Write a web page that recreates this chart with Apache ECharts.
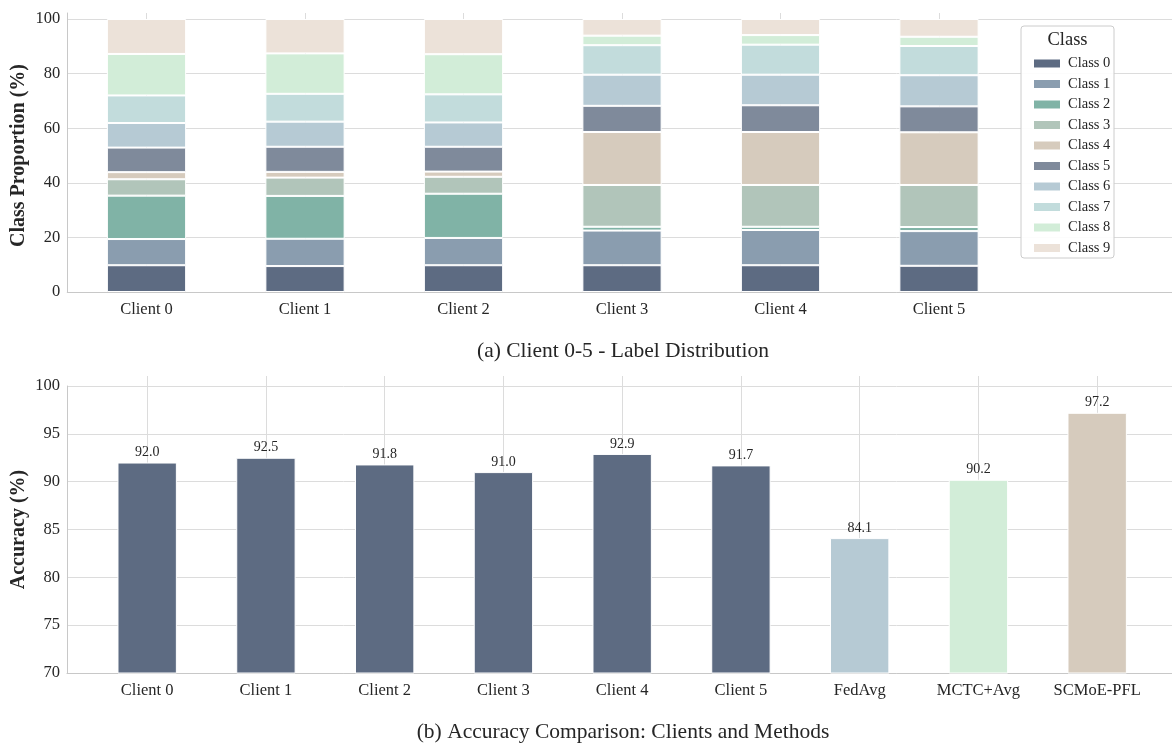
<!DOCTYPE html>
<html>
<head>
<meta charset="utf-8">
<script src="https://cdn.jsdelivr.net/npm/echarts@6/dist/echarts.min.js"></script>
<style>
  html, body { margin: 0; padding: 0; background: #ffffff; }
  #chart { width: 1172px; height: 746px; }
</style>
</head>
<body>
<div id="chart"></div>
<script>
// ---- data: label distribution per client (percent of samples per class) ----
const clients = ['Client 0', 'Client 1', 'Client 2', 'Client 3', 'Client 4', 'Client 5'];
const classNames = ['Class 0', 'Class 1', 'Class 2', 'Class 3', 'Class 4',
                    'Class 5', 'Class 6', 'Class 7', 'Class 8', 'Class 9'];
const class0 = [9.8, 9.5, 9.8, 9.8, 9.8, 9.6];
const class1 = [9.6, 10.0, 10.0, 12.7, 12.9, 12.7];
const class2 = [15.9, 15.7, 16.2, 1.4, 1.2, 1.5];
const class3 = [6.0, 6.7, 6.2, 15.3, 15.3, 15.4];
const class4 = [2.6, 2.1, 1.9, 19.4, 19.4, 19.3];
const class5 = [9.0, 9.2, 9.1, 9.6, 9.8, 9.5];
const class6 = [9.0, 9.2, 8.9, 11.4, 11.2, 11.4];
const class7 = [10.1, 10.2, 10.3, 10.8, 11.0, 10.7];
const class8 = [15.2, 14.8, 14.7, 3.5, 3.5, 3.4];
const class9 = [12.8, 12.6, 12.9, 6.1, 5.9, 6.5];
const classShares = [class0, class1, class2, class3, class4, class5, class6, class7, class8, class9];
const proportionTicks = [0, 100, 20];      // min, max, step

// ---- data: accuracy of each client and of the aggregation methods ----
const methods = ['Client 0', 'Client 1', 'Client 2', 'Client 3', 'Client 4', 'Client 5',
                 'FedAvg', 'MCTC+Avg', 'SCMoE-PFL'];
const accuracy = [92.0, 92.5, 91.8, 91.0, 92.9, 91.7, 84.1, 90.2, 97.2];
const accuracyTicks = [70, 100, 5];        // min, max, step

// ---- styling ----
const FONT = 'Liberation Serif';
const TEXT = '#262626';
const GRID_LINE = '#dcdcdc';
const SPINE = '#c8c8c8';
const classColors = ['#5d6b82', '#8a9daf', '#80b3a6', '#b1c5ba', '#d6cbbd',
                     '#7f8a9b', '#b6cad4', '#c2dcdc', '#d2edd8', '#ece2d9'];
const methodColors = ['#5d6b82', '#5d6b82', '#5d6b82', '#5d6b82', '#5d6b82', '#5d6b82',
                      '#b6cad4', '#d2edd8', '#d6cbbd'];

// panel geometry (pixels)
const topPanel = { left: 67.25, width: 1109.5, plotTop: 19, frameTop: 13, bottom: 292 };
const botPanel = { left: 67, width: 1110, plotTop: 386, frameTop: 376, bottom: 673,
                   barLeft: 87.8, barWidth: 1068.75 };

// helper: index list used by the centre-aligned vertical grid axes
const range = n => Array.from({ length: n }, (_, i) => String(i));

const topCats = clients.concat(['']);                 // one empty slot leaves room for the legend
const topGridSlots = range(topCats.length * 2 + 1);   // ticks at band edges and centres
const botGridSlots = range(methods.length * 2 + 1);

const chart = echarts.init(document.getElementById('chart'), null, { renderer: 'canvas' });

const stackSeries = classNames.map((name, k) => ({
  name: name,
  type: 'bar',
  stack: 'share',
  xAxisIndex: 1,
  yAxisIndex: 1,
  barWidth: '50%',
  data: classShares[k],
  itemStyle: { color: classColors[k], borderColor: '#ffffff', borderWidth: 1 },
  emphasis: { disabled: true }
}));

const accuracySeries = {
  name: 'Accuracy',
  type: 'bar',
  xAxisIndex: 3,
  yAxisIndex: 3,
  barWidth: '50%',
  data: accuracy.map((v, i) => ({ value: v, itemStyle: { color: methodColors[i] } })),
  itemStyle: { borderColor: '#ffffff', borderWidth: 1 },
  label: {
    show: true, position: 'top', distance: 3,
    fontFamily: FONT, fontSize: 14, color: TEXT,
    formatter: p => p.value.toFixed(1)
  },
  emphasis: { disabled: true }
};

const axisName = { fontFamily: FONT, fontSize: 20, fontWeight: 'bold', color: TEXT };
const tickFont = { fontFamily: FONT, fontSize: 16.5, color: TEXT };

const fixedGrid = (left, top, width, height) =>
  ({ left, top, width, height, containLabel: false, outerBoundsMode: 'none' });

const option = {
  animation: false,
  backgroundColor: '#ffffff',
  textStyle: { fontFamily: FONT },
  grid: [
    // 0: frame of the distribution panel (spines + vertical grid)
    fixedGrid(topPanel.left, topPanel.frameTop, topPanel.width, topPanel.bottom - topPanel.frameTop),
    // 1: stacked bars
    fixedGrid(topPanel.left, topPanel.plotTop, topPanel.width, topPanel.bottom - topPanel.plotTop),
    // 2: frame of the accuracy panel (spines + horizontal grid)
    fixedGrid(botPanel.left, botPanel.plotTop, botPanel.width, botPanel.bottom - botPanel.plotTop),
    // 3: accuracy bars
    fixedGrid(botPanel.barLeft, botPanel.frameTop, botPanel.barWidth, botPanel.bottom - botPanel.frameTop)
  ],
  xAxis: [
    { gridIndex: 0, type: 'category', data: topGridSlots, boundaryGap: false,
      axisLine: { show: true, lineStyle: { color: SPINE, width: 1 } },
      axisTick: { show: false }, axisLabel: { show: false },
      splitLine: { show: true, interval: (i) => i % 2 === 1 && i < clients.length * 2,
                   lineStyle: { color: GRID_LINE, width: 1 } } },
    { gridIndex: 1, type: 'category', data: topCats, boundaryGap: true,
      axisLine: { show: false }, axisTick: { show: false },
      axisLabel: Object.assign({ show: true, interval: 0, margin: 9 }, tickFont),
      splitLine: { show: false } },
    { gridIndex: 2, type: 'category', data: ['a'], boundaryGap: true,
      axisLine: { show: true, lineStyle: { color: SPINE, width: 1 } },
      axisTick: { show: false }, axisLabel: { show: false }, splitLine: { show: false } },
    { gridIndex: 3, type: 'category', data: methods, boundaryGap: true,
      axisLine: { show: false }, axisTick: { show: false },
      axisLabel: Object.assign({ show: true, interval: 0, margin: 9 }, tickFont),
      splitLine: { show: false } },
    { gridIndex: 3, type: 'category', data: botGridSlots, boundaryGap: false, position: 'top',
      axisLine: { show: false }, axisTick: { show: false }, axisLabel: { show: false },
      splitLine: { show: true, interval: (i) => i % 2 === 1,
                   lineStyle: { color: GRID_LINE, width: 1 } } }
  ],
  yAxis: [
    { gridIndex: 0, type: 'value', min: 0, max: 1,
      axisLine: { show: true, lineStyle: { color: SPINE, width: 1 } },
      axisTick: { show: false }, axisLabel: { show: false }, splitLine: { show: false } },
    { gridIndex: 1, type: 'value', min: proportionTicks[0], max: proportionTicks[1],
      interval: proportionTicks[2],
      name: 'Class Proportion (%)', nameLocation: 'middle', nameGap: 38, nameRotate: 90,
      nameMoveOverlap: false,
      nameTextStyle: axisName,
      axisLine: { show: false }, axisTick: { show: false },
      axisLabel: Object.assign({ margin: 7 }, tickFont),
      splitLine: { show: true, lineStyle: { color: GRID_LINE, width: 1 } } },
    { gridIndex: 2, type: 'value', min: accuracyTicks[0], max: accuracyTicks[1],
      interval: accuracyTicks[2],
      name: 'Accuracy (%)', nameLocation: 'middle', nameGap: 38, nameRotate: 90,
      nameMoveOverlap: false,
      nameTextStyle: axisName,
      axisLine: { show: true, lineStyle: { color: SPINE, width: 1 } }, axisTick: { show: false },
      axisLabel: Object.assign({ margin: 7 }, tickFont),
      splitLine: { show: true, lineStyle: { color: GRID_LINE, width: 1 } } },
    { gridIndex: 3, type: 'value', show: false, min: accuracyTicks[0],
      // same scale as the frame axis, extended to the taller bar grid
      max: accuracyTicks[0] + (accuracyTicks[1] - accuracyTicks[0]) *
           (botPanel.bottom - botPanel.frameTop) / (botPanel.bottom - botPanel.plotTop),
      splitLine: { show: false } }
  ],
  legend: {
    show: true,
    data: classNames,
    orient: 'vertical',
    left: 1027, top: 51,
    itemWidth: 28, itemHeight: 10, itemGap: 5.5,
    icon: 'rect',
    z: 6,
    textStyle: { fontFamily: FONT, fontSize: 14.5, color: TEXT, padding: [0, 0, 0, 2] },
    selectedMode: false
  },
  graphic: [
    { type: 'rect', z: 5, silent: true,
      shape: { x: 1021, y: 26, width: 93, height: 232, r: 3 },
      style: { fill: 'rgba(255,255,255,0.9)', stroke: '#cccccc', lineWidth: 1 } },
    { type: 'text', z: 6, silent: true, x: 1067.5, y: 40,
      style: { text: 'Class', fontFamily: FONT, fontSize: 18.5, fill: TEXT,
               textAlign: 'center', textVerticalAlign: 'middle' } },
    { type: 'text', silent: true, x: 623, y: 351,
      style: { text: '(a) Client 0-5 - Label Distribution', fontFamily: FONT, fontSize: 21.5,
               fill: TEXT, textAlign: 'center', textVerticalAlign: 'middle' } },
    { type: 'text', silent: true, x: 623, y: 732,
      style: { text: '(b) Accuracy Comparison: Clients and Methods', fontFamily: FONT, fontSize: 21.5,
               fill: TEXT, textAlign: 'center', textVerticalAlign: 'middle' } }
  ],
  series: stackSeries.concat([accuracySeries])
};

chart.setOption(option);
</script>
</body>
</html>
